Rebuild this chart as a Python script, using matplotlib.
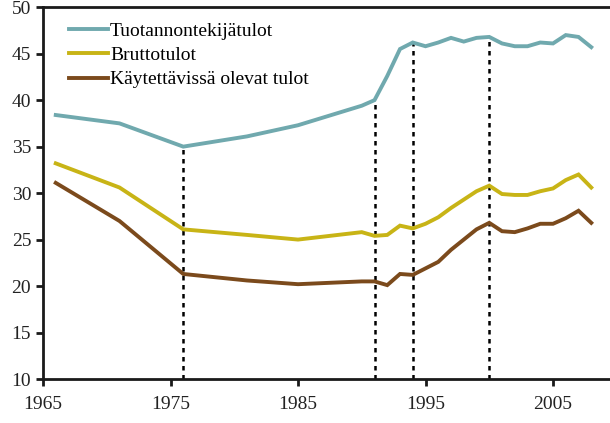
import matplotlib
matplotlib.use("Agg")
import matplotlib.pyplot as plt

years = [1966, 1971, 1976, 1981, 1985, 1990, 1991, 1992, 1993, 1994, 1995, 1996,
         1997, 1998, 1999, 2000, 2001, 2002, 2003, 2004, 2005, 2006, 2007, 2008]

tuotannontekija = [38.4, 37.5, 35.0, 36.1, 37.3, 39.4, 40.0, 42.6, 45.5, 46.2, 45.8, 46.2,
                   46.7, 46.3, 46.7, 46.8, 46.1, 45.8, 45.8, 46.2, 46.1, 47.0, 46.8, 45.7]
brutto = [33.2, 30.6, 26.1, 25.5, 25.0, 25.8, 25.4, 25.5, 26.5, 26.2, 26.7, 27.4,
          28.4, 29.3, 30.2, 30.8, 29.9, 29.8, 29.8, 30.2, 30.5, 31.4, 32.0, 30.6]
kaytettavissa = [31.1, 27.0, 21.3, 20.6, 20.2, 20.5, 20.5, 20.1, 21.3, 21.2, 21.9, 22.6,
                 23.9, 25.0, 26.1, 26.8, 25.9, 25.8, 26.2, 26.7, 26.7, 27.3, 28.1, 26.8]

labels = ["Tuotannontekijätulot", "Bruttotulot", "Käytettävissä olevat tulot"]
colors = ["#70a9ae", "#c8b416", "#7b4a1c"]
marker_years = [1976, 1991, 1994, 2000]

plt.rcParams["font.family"] = ["Liberation Serif", "DejaVu Serif"]

fig = plt.figure(figsize=(6.10, 4.23), dpi=100)
ax = fig.add_axes([0.0705, 0.104, 0.9295, 0.879])

for series, label, color in zip([tuotannontekija, brutto, kaytettavissa], labels, colors):
    ax.plot(years, series, color=color, linewidth=2.8, label=label, solid_joinstyle="miter")

# dotted guides from the top series down to the x axis
for yr in marker_years:
    top = tuotannontekija[years.index(yr)]
    ax.plot([yr, yr], [10, top], color="black", linestyle=(0, (1.8, 1.8)),
            linewidth=1.8, zorder=1)

ax.set_xlim(1965, 2009.47)
ax.set_ylim(10, 50)
ax.set_xticks([1965, 1975, 1985, 1995, 2005])
ax.set_yticks(range(10, 51, 5))

ax.spines["right"].set_visible(False)
for side in ["left", "bottom", "top"]:
    ax.spines[side].set_linewidth(2.0)
    ax.spines[side].set_color("#1a1a1a")
ax.tick_params(axis="both", direction="out", length=5, width=2.0, labelsize=14,
               colors="#1a1a1a", labelcolor="#222222")
ax.tick_params(axis="x", pad=7)

ax.legend(loc="upper left", frameon=False, fontsize=14, handlelength=2.0,
          handletextpad=0.1, labelspacing=0.35, borderaxespad=0.3,
          bbox_to_anchor=(0.022, 0.997))

fig.savefig("out.png", dpi=100)
plt.close(fig)
